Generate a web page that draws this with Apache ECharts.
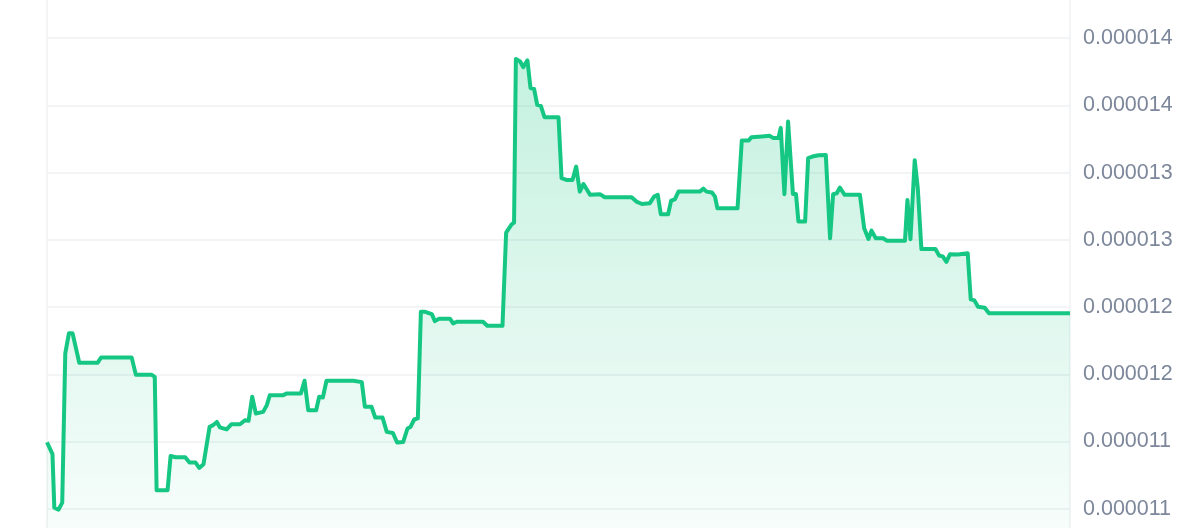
<!DOCTYPE html>
<html>
<head>
<meta charset="utf-8">
<script src="https://cdn.jsdelivr.net/npm/echarts@6/dist/echarts.min.js"></script>
<style>
html,body{margin:0;padding:0;background:#fff;overflow:hidden;width:1200px;height:528px;position:relative;}
#chart{position:absolute;left:0;top:-29px;width:1200px;height:605px;}
</style>
</head>
<body>
<div id="chart"></div>
<script>
// time in hours over a 7-day window
var hours = [0,0.9,1.2,1.9,2.5,3.0,3.6,4.2,5.3,8.3,8.9,13.9,14.6,17.2,17.7,18.0,19.8,20.3,21.1,22.7,
23.4,24.4,25.0,25.7,26.7,27.2,27.9,28.4,29.5,30.3,31.7,32.5,33.1,33.7,34.3,35.5,36.1,36.6,38.8,39.4,
41.7,42.3,42.9,44.2,44.7,45.3,45.9,50.3,51.7,52.2,53.3,53.9,55.1,55.8,56.8,57.5,58.5,59.2,59.7,60.3,
60.9,61.4,62.1,63.2,63.7,64.4,66.2,66.7,67.3,71.6,72.3,74.8,75.4,76.3,76.7,77.0,77.7,78.2,78.9,79.4,
80.0,80.5,81.1,81.7,84.0,84.5,85.3,86.3,86.9,87.5,88.1,89.2,90.8,91.6,96.0,96.8,97.7,99.0,99.7,100.3,
100.8,102.0,102.5,103.1,103.7,107.2,107.8,108.3,109.2,109.7,110.1,113.4,114.1,115.2,115.7,117.4,118.7,119.3,120.1,120.5,
121.1,121.7,122.5,123.0,123.4,124.5,125.0,125.7,126.7,127.9,128.6,129.1,129.7,130.2,131.0,133.5,134.2,134.9,135.4,136.1,
137.3,137.9,140.9,141.3,141.8,142.5,143.0,143.6,145.9,146.5,147.1,147.7,148.3,149.6,151.2,151.7,152.3,152.9,154.0,154.7,
168];
var prices = [0.000011495,0.000011406,0.000011009,0.000010994,0.000011046,0.000012156,0.000012305,0.000012305,0.000012086,0.000012086,
0.000012126,0.000012126,0.000011996,0.000011996,0.000011981,0.000011138,0.000011138,0.000011393,0.000011383,0.000011383,
0.000011344,0.000011344,0.000011304,0.000011331,0.000011609,0.000011620,0.000011646,0.000011605,0.000011590,0.000011629,
0.000011629,0.000011659,0.000011654,0.000011833,0.000011709,0.000011721,0.000011771,0.000011845,0.000011845,0.000011858,
0.000011858,0.000011952,0.000011733,0.000011733,0.000011833,0.000011828,0.000011952,0.000011952,0.000011942,0.000011758,
0.000011758,0.000011679,0.000011679,0.000011572,0.000011564,0.000011493,0.000011497,0.000011597,0.000011609,0.000011664,
0.000011672,0.000012465,0.000012465,0.000012448,0.000012396,0.000012413,0.000012413,0.000012379,0.000012391,0.000012391,
0.000012361,0.000012361,0.000013054,0.000013116,0.000013128,0.000014345,0.000014327,0.000014285,0.000014335,0.000014129,
0.000014122,0.000014005,0.000013997,0.000013913,0.000013913,0.000013459,0.000013446,0.000013446,0.000013545,0.000013359,
0.000013416,0.000013335,0.000013340,0.000013317,0.000013317,0.000013285,0.000013267,0.000013273,0.000013322,0.000013335,
0.000013191,0.000013191,0.000013292,0.000013302,0.000013359,0.000013359,0.000013381,0.000013359,0.000013352,0.000013322,
0.000013235,0.000013235,0.000013739,0.000013739,0.000013764,0.000013769,0.000013774,0.000013757,0.000013757,0.000013833,
0.000013340,0.000013880,0.000013342,0.000013342,0.000013136,0.000013136,0.000013608,0.000013620,0.000013630,0.000013632,
0.000013012,0.000013340,0.000013347,0.000013389,0.000013335,0.000013335,0.000013087,0.000013007,0.000013069,0.000013012,
0.000013012,0.000012994,0.000012994,0.000013297,0.000013005,0.000013593,0.000013387,0.000012932,0.000012932,0.000012884,
0.000012877,0.000012836,0.000012894,0.000012891,0.000012900,0.000012558,0.000012550,0.000012503,0.000012495,0.000012454,
0.000012454];
// ticks every 0.0000005; the outermost ones fall outside the visible window
var tickValues = [0.0000105,0.000011,0.0000115,0.000012,0.0000125,0.000013,0.0000135,0.000014,0.0000145,0.000015];
var tickLabels = ['','0.000011','0.000011','0.000012','0.000012','0.000013','0.000013','0.000014','0.000014',''];

var seriesData = hours.map(function(h,i){return [h, prices[i]];});
var chart = echarts.init(document.getElementById('chart'), null, {renderer:'canvas'});
chart.setOption({
  animation:false,
  backgroundColor:'#ffffff',
  grid:{left:47,right:130,top:0,bottom:0,containLabel:false},
  xAxis:{
    type:'value',min:0,max:168,interval:168,
    axisLine:{show:false},axisTick:{show:false},axisLabel:{show:false},
    splitLine:{show:true,lineStyle:{color:'#eef0f3',width:1.5}}
  },
  yAxis:{
    type:'value',position:'right',
    min:tickValues[0],max:tickValues[tickValues.length-1],interval:0.0000005,
    axisLine:{show:false},axisTick:{show:false},
    axisLabel:{
      margin:13,color:'#7d879b',fontSize:21.5,fontFamily:'Liberation Sans, Arial, sans-serif',
      formatter:function(v){
        var idx=Math.round((v-tickValues[0])/0.0000005);
        return tickLabels[idx]!==undefined?tickLabels[idx]:'';
      }
    },
    splitLine:{show:true,lineStyle:{color:'#eef0f3',width:1.5}}
  },
  series:[{
    type:'line',
    data:seriesData,
    showSymbol:false,
    symbol:'none',
    lineStyle:{color:'#16c784',width:4,join:'round'},
    itemStyle:{color:'#16c784'},
    areaStyle:{
      color:new echarts.graphic.LinearGradient(0,0,0,1,[
        {offset:0,color:'rgba(22,199,132,0.36)'},
        {offset:1,color:'rgba(22,199,132,0.02)'}
      ])
    }
  }]
});
</script>
</body>
</html>
